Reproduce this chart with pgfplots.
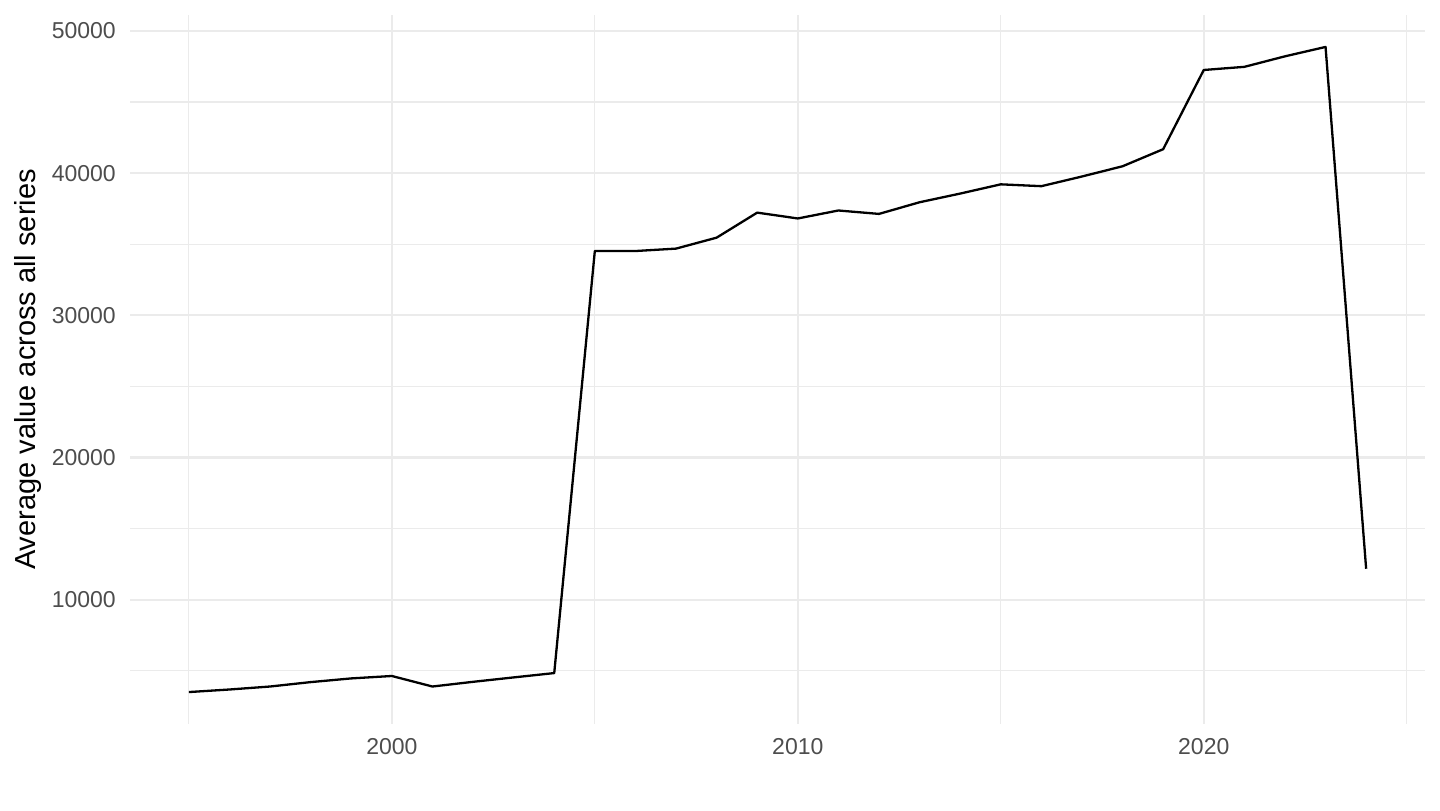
\documentclass[border=0pt]{standalone}
\usepackage{fontspec}
\setmainfont{Liberation Sans}
\usepackage{pgfplots}
\pgfplotsset{compat=1.18}
\definecolor{gridgray}{HTML}{EBEBEB}
\definecolor{ticktext}{HTML}{4D4D4D}
\begin{document}
\begin{tikzpicture}
  \begin{axis}[
      at={(0,0)}, anchor=south west,
      scale only axis,
      width=647.5pt, height=354.5pt,
      xmin=1993.55, xmax=2025.45,
      ymin=1264, ymax=51116,
      axis line style={draw=none},
      tick style={draw=none},
      xtick={2000,2010,2020},
      minor xtick={1995,2005,2015,2025},
      ytick={10000,20000,30000,40000,50000},
      minor ytick={5000,15000,25000,35000,45000},
      xmajorgrids, ymajorgrids, xminorgrids, yminorgrids,
      major grid style={gridgray, line width=1.1pt},
      minor grid style={gridgray, line width=0.55pt},
      /pgf/number format/assume math mode=true,
      scaled ticks=false,
      xticklabel={\pgfmathprintnumber[1000 sep={},fixed]{\tick}},
      yticklabel={\pgfmathprintnumber[1000 sep={},fixed]{\tick}},
      tick label style={font=\fontsize{11.5pt}{13pt}\selectfont, text=ticktext},
      yticklabel style={anchor=east, xshift=-3.6pt},
      xticklabel style={anchor=north, yshift=-3.5pt},
      ylabel={Average value across all series},
      every axis y label/.style={at={(axis description cs:-0.0788,0.5)}, rotate=90, anchor=center, font=\fontsize{14.5pt}{17pt}\selectfont},
    ]
    \addplot[black, line width=1.15pt, line join=round] coordinates {
      (1995, 3510)
      (1996, 3690)
      (1997, 3900)
      (1998, 4210)
      (1999, 4470)
      (2000, 4640)
      (2001, 3900)
      (2002, 4230)
      (2003, 4540)
      (2004, 4845)
      (2005, 34520)
      (2006, 34520)
      (2007, 34690)
      (2008, 35460)
      (2009, 37220)
      (2010, 36810)
      (2011, 37370)
      (2012, 37130)
      (2013, 37950)
      (2014, 38560)
      (2015, 39210)
      (2016, 39080)
      (2017, 39760)
      (2018, 40480)
      (2019, 41680)
      (2020, 47250)
      (2021, 47470)
      (2022, 48210)
      (2023, 48870)
      (2024, 12180)
    };
  \end{axis}
  \path[use as bounding box] (-65pt,-43pt) rectangle (655pt,362pt);
\end{tikzpicture}
\end{document}
